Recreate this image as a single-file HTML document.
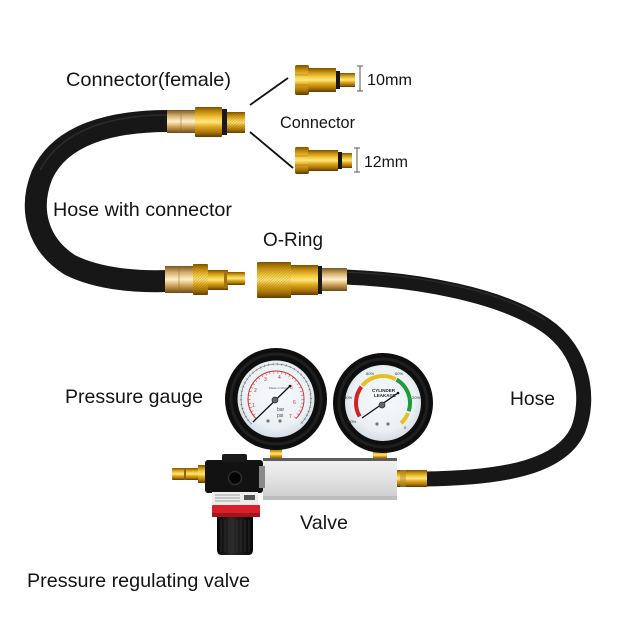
<!DOCTYPE html>
<html>
<head>
<meta charset="utf-8">
<style>
html,body{margin:0;padding:0;background:#fff;}
svg{display:block;}
text{font-family:"Liberation Sans",Arial,sans-serif;fill:#141414;}
</style>
</head>
<body>
<svg width="637" height="637" viewBox="0 0 637 637" xmlns="http://www.w3.org/2000/svg">
<defs>
  <linearGradient id="brass" x1="0" y1="0" x2="0" y2="1">
    <stop offset="0" stop-color="#7a5200"/>
    <stop offset="0.15" stop-color="#c28a0c"/>
    <stop offset="0.35" stop-color="#f2c83a"/>
    <stop offset="0.5" stop-color="#ffe680"/>
    <stop offset="0.65" stop-color="#e2aa1c"/>
    <stop offset="0.85" stop-color="#a87308"/>
    <stop offset="1" stop-color="#5e3c00"/>
  </linearGradient>
  <linearGradient id="sleeve" x1="0" y1="0" x2="0" y2="1">
    <stop offset="0" stop-color="#7a5620"/>
    <stop offset="0.25" stop-color="#d6b070"/>
    <stop offset="0.5" stop-color="#fff0cc"/>
    <stop offset="0.72" stop-color="#d2a45a"/>
    <stop offset="1" stop-color="#6d4a14"/>
  </linearGradient>
  <linearGradient id="metal" x1="0" y1="0" x2="0" y2="1">
    <stop offset="0" stop-color="#f2f2f2"/>
    <stop offset="0.5" stop-color="#e3e3e3"/>
    <stop offset="1" stop-color="#cbcbcb"/>
  </linearGradient>
  <radialGradient id="face" cx="0.5" cy="0.45" r="0.6">
    <stop offset="0" stop-color="#f8fafc"/>
    <stop offset="0.7" stop-color="#eaf0f4"/>
    <stop offset="1" stop-color="#cdd6de"/>
  </radialGradient>
  <pattern id="knurl" width="2" height="2" patternUnits="userSpaceOnUse" patternTransform="rotate(45)">
    <rect width="2" height="2" fill="none"/>
    <line x1="0" y1="0" x2="0" y2="2" stroke="#7a5608" stroke-width="0.7" opacity="0.6"/>
  </pattern>
  <linearGradient id="knob" x1="0" y1="0" x2="1" y2="0">
    <stop offset="0" stop-color="#050505"/>
    <stop offset="0.4" stop-color="#2a2a2a"/>
    <stop offset="1" stop-color="#050505"/>
  </linearGradient>
</defs>

<rect width="637" height="637" fill="#fff"/>

<!-- ============ HOSES ============ -->
<path d="M168,121 C110,121 60,135 42,175 C28,210 38,245 70,265 C100,280 140,282 168,281" fill="none" stroke="#171717" stroke-width="22"/>
<path d="M168,115 C112,115 62,129 40,170" fill="none" stroke="#3a3a3a" stroke-width="1.5" opacity="0.6"/>
<path d="M345,277 C420,280 500,295 545,325 C585,352 590,400 578,430 C562,465 510,478 425,479" fill="none" stroke="#171717" stroke-width="15"/>
<path d="M345,272 C420,275 500,290 545,320" fill="none" stroke="#3a3a3a" stroke-width="1.2" opacity="0.6"/>

<!-- ============ TOP FEMALE CONNECTOR ============ -->
<rect x="167" y="110" width="28" height="23" fill="url(#sleeve)"/>
<line x1="181" y1="111" x2="181" y2="132" stroke="#8a6a30" stroke-width="1" opacity="0.5"/>
<rect x="195" y="107" width="27" height="30" rx="1" fill="url(#brass)"/>
<rect x="222" y="109" width="5" height="26" fill="#1b1b1b"/>
<rect x="227" y="112" width="18" height="21" fill="url(#brass)"/>
<rect x="227" y="112" width="18" height="21" fill="url(#knurl)"/>

<!-- connector pointer lines -->
<line x1="250" y1="105" x2="288" y2="78" stroke="#111" stroke-width="1.8"/>
<line x1="250" y1="132" x2="293" y2="168" stroke="#111" stroke-width="1.8"/>

<!-- ============ SMALL CONNECTORS ============ -->
<rect x="295" y="65" width="14" height="30" rx="2" fill="url(#brass)"/>
<line x1="295" y1="75" x2="309" y2="75" stroke="#9a7010" stroke-width="0.6"/>
<line x1="295" y1="85" x2="309" y2="85" stroke="#9a7010" stroke-width="0.6"/>
<rect x="308" y="68" width="28" height="24" fill="url(#brass)"/>
<rect x="336" y="71" width="4" height="18" fill="#161616"/>
<rect x="340" y="73" width="15" height="14" fill="url(#brass)"/>
<line x1="360" y1="66" x2="360" y2="91" stroke="#555" stroke-width="1"/>
<line x1="357" y1="66" x2="363" y2="66" stroke="#555" stroke-width="1"/>
<line x1="357" y1="91" x2="363" y2="91" stroke="#555" stroke-width="1"/>

<rect x="295" y="147" width="14" height="27" rx="2" fill="url(#brass)"/>
<line x1="295" y1="156" x2="309" y2="156" stroke="#9a7010" stroke-width="0.6"/>
<line x1="295" y1="165" x2="309" y2="165" stroke="#9a7010" stroke-width="0.6"/>
<rect x="308" y="150" width="30" height="21" fill="url(#brass)"/>
<rect x="338" y="152" width="4" height="17" fill="#161616"/>
<rect x="342" y="153" width="10" height="15" fill="url(#brass)"/>
<line x1="357" y1="148" x2="357" y2="172" stroke="#555" stroke-width="1"/>
<line x1="354" y1="148" x2="360" y2="148" stroke="#555" stroke-width="1"/>
<line x1="354" y1="172" x2="360" y2="172" stroke="#555" stroke-width="1"/>

<!-- ============ MIDDLE CONNECTORS ============ -->
<rect x="165" y="266" width="28" height="27" fill="url(#sleeve)"/>
<line x1="179" y1="267" x2="179" y2="292" stroke="#8a6a30" stroke-width="1" opacity="0.5"/>
<rect x="193" y="264" width="15" height="31" rx="1" fill="url(#brass)"/>
<rect x="193" y="264" width="15" height="31" fill="url(#knurl)"/>
<rect x="208" y="270" width="20" height="20" fill="url(#brass)"/>
<rect x="224" y="272" width="3" height="16" fill="#a07310"/>
<rect x="227" y="272" width="18" height="13" rx="1" fill="url(#brass)"/>

<rect x="257" y="262" width="34" height="36" rx="1" fill="url(#brass)"/>
<rect x="257" y="262" width="34" height="36" fill="url(#knurl)"/>
<rect x="291" y="265" width="27" height="30" fill="url(#brass)"/>
<rect x="318" y="266" width="4" height="28" fill="#1a1a1a"/>
<rect x="322" y="268" width="25" height="23" fill="url(#sleeve)"/>

<!-- ============ MANIFOLD ============ -->
<rect x="270" y="449" width="12" height="10" fill="url(#brass)"/>
<rect x="373" y="451" width="14" height="8" fill="url(#brass)"/>
<rect x="263" y="458" width="134" height="42" fill="url(#metal)"/>
<rect x="263" y="458" width="134" height="3" fill="#5e5e5e"/>
<rect x="263" y="496" width="134" height="4" fill="#bdbdbd"/>
<rect x="397" y="470" width="30" height="17" fill="url(#brass)"/>
<rect x="400" y="470" width="6" height="17" fill="#b08a30" opacity="0.5"/>

<!-- ============ REGULATOR ============ -->
<rect x="172" y="468" width="27" height="12" rx="1" fill="url(#brass)"/>
<rect x="184" y="468" width="2" height="12" fill="#8a6510"/>
<rect x="198" y="465" width="9" height="18" fill="url(#brass)"/>
<rect x="205" y="460" width="58" height="33" rx="3" fill="#121212"/>
<rect x="222" y="454" width="25" height="8" rx="2" fill="#1a1a1a"/>
<rect x="259" y="466" width="6" height="22" fill="#8a8a8a"/>
<circle cx="235" cy="478" r="6.5" fill="#050505" stroke="#2e2e2e" stroke-width="1.5"/>
<rect x="212" y="492" width="46" height="13" fill="#ececec"/>
<line x1="215" y1="495" x2="240" y2="495" stroke="#888" stroke-width="0.7"/>
<line x1="215" y1="498" x2="240" y2="498" stroke="#888" stroke-width="0.7"/>
<line x1="215" y1="501" x2="240" y2="501" stroke="#888" stroke-width="0.7"/>
<rect x="244" y="495" width="11" height="5" fill="#555"/>
<rect x="212" y="505" width="48" height="12" rx="1" fill="#d8202a"/>
<rect x="212" y="513" width="48" height="4" fill="#a5141c"/>
<path d="M217,517 H253 V550 Q253,555 248,555 H222 Q217,555 217,550 Z" fill="url(#knob)"/>
<g stroke="#333" stroke-width="0.8">
  <line x1="221" y1="520" x2="221" y2="552"/><line x1="225" y1="520" x2="225" y2="552"/>
  <line x1="229" y1="520" x2="229" y2="552"/><line x1="233" y1="520" x2="233" y2="552"/>
  <line x1="237" y1="520" x2="237" y2="552"/><line x1="241" y1="520" x2="241" y2="552"/>
  <line x1="245" y1="520" x2="245" y2="552"/><line x1="249" y1="520" x2="249" y2="552"/>
</g>

<!-- ============ LEFT GAUGE ============ -->
<circle cx="276" cy="399" r="51" fill="#0e0e0e"/>
<circle cx="276" cy="399" r="45" fill="none" stroke="#1f1f1f" stroke-width="3"/>
<circle cx="276" cy="399" r="38.5" fill="url(#face)"/>
<path d="M251.25,423.75 A35,35 0 1 1 300.75,423.75" fill="none" stroke="#555" stroke-width="2.5" stroke-dasharray="0.4 4"/>
<path d="M251.25,423.75 A35,35 0 1 1 300.75,423.75" fill="none" stroke="#444" stroke-width="0.5"/>
<path d="M256.2,418.8 A28,28 0 1 1 295.8,418.8" fill="none" stroke="#d23030" stroke-width="1"/>
<path d="M257.3,417.7 A26.5,26.5 0 1 1 294.7,417.7" fill="none" stroke="#d23030" stroke-width="2.2" stroke-dasharray="0.5 3.5"/>
<g font-size="5">
  <text x="252" y="407" style="fill:#c82828">1</text>
  <text x="254" y="392" style="fill:#c82828">2</text>
  <text x="264" y="381" style="fill:#c82828">3</text>
  <text x="278" y="379" style="fill:#c82828">4</text>
  <text x="290" y="389" style="fill:#c82828">5</text>
  <text x="293" y="404" style="fill:#c82828">6</text>
  <text x="289" y="418" style="fill:#c82828">7</text>
</g>
<text x="269" y="389" font-size="3" style="fill:#555">Made in China</text>
<text x="277" y="411" font-size="5" style="fill:#444">bar</text>
<text x="277" y="417" font-size="5" style="fill:#444">psi</text>
<circle cx="268" cy="421" r="1.6" fill="#777"/>
<circle cx="280" cy="421" r="1.6" fill="#777"/>
<line x1="253" y1="422" x2="290" y2="386" stroke="#111" stroke-width="1.3"/>
<circle cx="290" cy="386" r="1.3" fill="#111"/>
<circle cx="275" cy="400" r="3" fill="#666" stroke="#333" stroke-width="0.8"/>

<!-- ============ RIGHT GAUGE ============ -->
<circle cx="383" cy="403" r="50" fill="#0e0e0e"/>
<circle cx="383" cy="403" r="44" fill="none" stroke="#1f1f1f" stroke-width="3"/>
<circle cx="383" cy="403" r="38" fill="url(#face)"/>
<path d="M359.6,416.5 A27,27 0 0 1 361.4,386.75" fill="none" stroke="#d42222" stroke-width="4"/>
<path d="M362.3,385.6 A27,27 0 0 1 395.7,379.2" fill="none" stroke="#e6c020" stroke-width="4"/>
<path d="M396.5,379.6 A27,27 0 0 1 408.7,411.3" fill="none" stroke="#1f9a3a" stroke-width="4"/>
<path d="M408.0,413.1 A27,27 0 0 1 401.1,423.1" fill="none" stroke="#e6c020" stroke-width="4"/>
<g font-size="4">
  <text x="366" y="375" style="fill:#333">80%</text>
  <text x="395" y="375" style="fill:#333">60%</text>
  <text x="344" y="399" style="fill:#333">90%</text>
  <text x="412" y="399" style="fill:#333">20%</text>
  <text x="346" y="423" style="fill:#333">100%</text>
  <text x="404" y="429" style="fill:#333">0</text>
</g>
<text x="372" y="392" font-size="4.5" font-weight="bold" style="fill:#222">CYLINDER</text>
<text x="374" y="397" font-size="4.5" font-weight="bold" style="fill:#222">LEAKAGE</text>
<circle cx="377" cy="424" r="1.6" fill="#777"/>
<circle cx="388" cy="424" r="1.6" fill="#777"/>
<line x1="362" y1="418" x2="398" y2="393" stroke="#111" stroke-width="1.3"/>
<circle cx="398" cy="393" r="1.3" fill="#111"/>
<circle cx="382" cy="405" r="3" fill="#666" stroke="#333" stroke-width="0.8"/>

<!-- ============ LABELS ============ -->
<text x="66" y="86" font-size="19.5" textLength="165" lengthAdjust="spacingAndGlyphs">Connector(female)</text>
<text x="367" y="85" font-size="15.5" textLength="45" lengthAdjust="spacingAndGlyphs">10mm</text>
<text x="280" y="128" font-size="17" textLength="75" lengthAdjust="spacingAndGlyphs">Connector</text>
<text x="364" y="167" font-size="15.5" textLength="44" lengthAdjust="spacingAndGlyphs">12mm</text>
<text x="53" y="216" font-size="19.5" textLength="179" lengthAdjust="spacingAndGlyphs">Hose with connector</text>
<text x="263" y="246" font-size="19.5" textLength="60" lengthAdjust="spacingAndGlyphs">O-Ring</text>
<text x="65" y="403" font-size="19.5" textLength="138" lengthAdjust="spacingAndGlyphs">Pressure gauge</text>
<text x="510" y="405" font-size="19.5" textLength="45" lengthAdjust="spacingAndGlyphs">Hose</text>
<text x="300" y="529" font-size="19.5" textLength="48" lengthAdjust="spacingAndGlyphs">Valve</text>
<text x="27" y="587" font-size="19.5" textLength="223" lengthAdjust="spacingAndGlyphs">Pressure regulating valve</text>
</svg>
</body>
</html>
